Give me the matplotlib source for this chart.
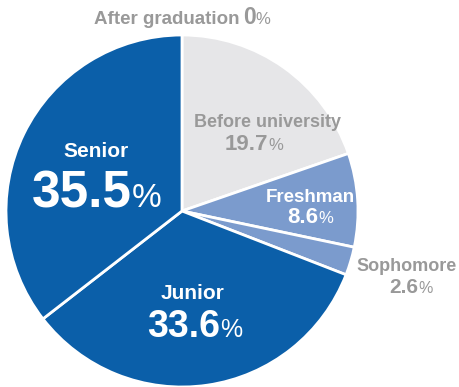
import matplotlib
matplotlib.use("Agg")
import matplotlib.pyplot as plt

plt.rcParams['font.family'] = ['Liberation Sans', 'DejaVu Sans']

labels = ["After graduation", "Before university", "Freshman", "Sophomore", "Junior", "Senior"]
shares = [0.0, 19.7, 8.6, 2.6, 33.6, 35.5]
colors = ["#e6e6e6", "#e6e6e8", "#7b9bcd", "#7b9bcd", "#0b5fa9", "#0b5fa9"]

W, H = 459, 387
fig = plt.figure(figsize=(W / 100, H / 100), dpi=100)
ax = fig.add_axes([0, 0, 1, 1])

cx, cy, r = 182, H - 211, 176
ax.pie(shares, colors=colors, startangle=90, counterclock=False,
       center=(cx, cy), radius=r, frame=True,
       wedgeprops=dict(edgecolor='white', linewidth=2))
ax.set_xlim(0, W)
ax.set_ylim(0, H)
ax.set_aspect('equal')
ax.axis('off')

gray = "#999999"
white = "white"

# name, name x / baseline, size, split x between number and %, number baseline, sizes, colour
label_specs = [
    (labels[1], 268, 127, 13, 268, 150, 16, 12, gray),
    (labels[2], 310, 202, 13.5, 318, 223, 16, 12, white),
    (labels[3], 407, 271, 13, 418, 293, 15, 11.5, gray),
    (labels[5], 96, 157, 15, 132, 207, 37, 24, white),
    (labels[4], 193, 299, 15, 220, 337, 27, 18, white),
]

for name, nx, ny, nsize, sx, vy, vsize, psize, col in label_specs:
    idx = labels.index(name)
    ax.text(nx, H - ny, name, ha='center', va='baseline', fontsize=nsize,
            fontweight='bold', color=col)
    ax.text(sx, H - vy, f"{shares[idx]:.1f}", ha='right', va='baseline',
            fontsize=vsize, fontweight='bold', color=col)
    ax.text(sx, H - vy, "%", ha='left', va='baseline', fontsize=psize, color=col)

# zero-share group sits above the pie
ax.text(239, H - 24, labels[0], ha='right', va='baseline', fontsize=13.5,
        fontweight='bold', color=gray)
ax.text(243, H - 24, f"{shares[0]:.0f}", ha='left', va='baseline', fontsize=16.5,
        fontweight='bold', color=gray)
ax.text(255, H - 24, "%", ha='left', va='baseline', fontsize=12, color=gray)

fig.savefig("out.png", dpi=100, facecolor='white')
